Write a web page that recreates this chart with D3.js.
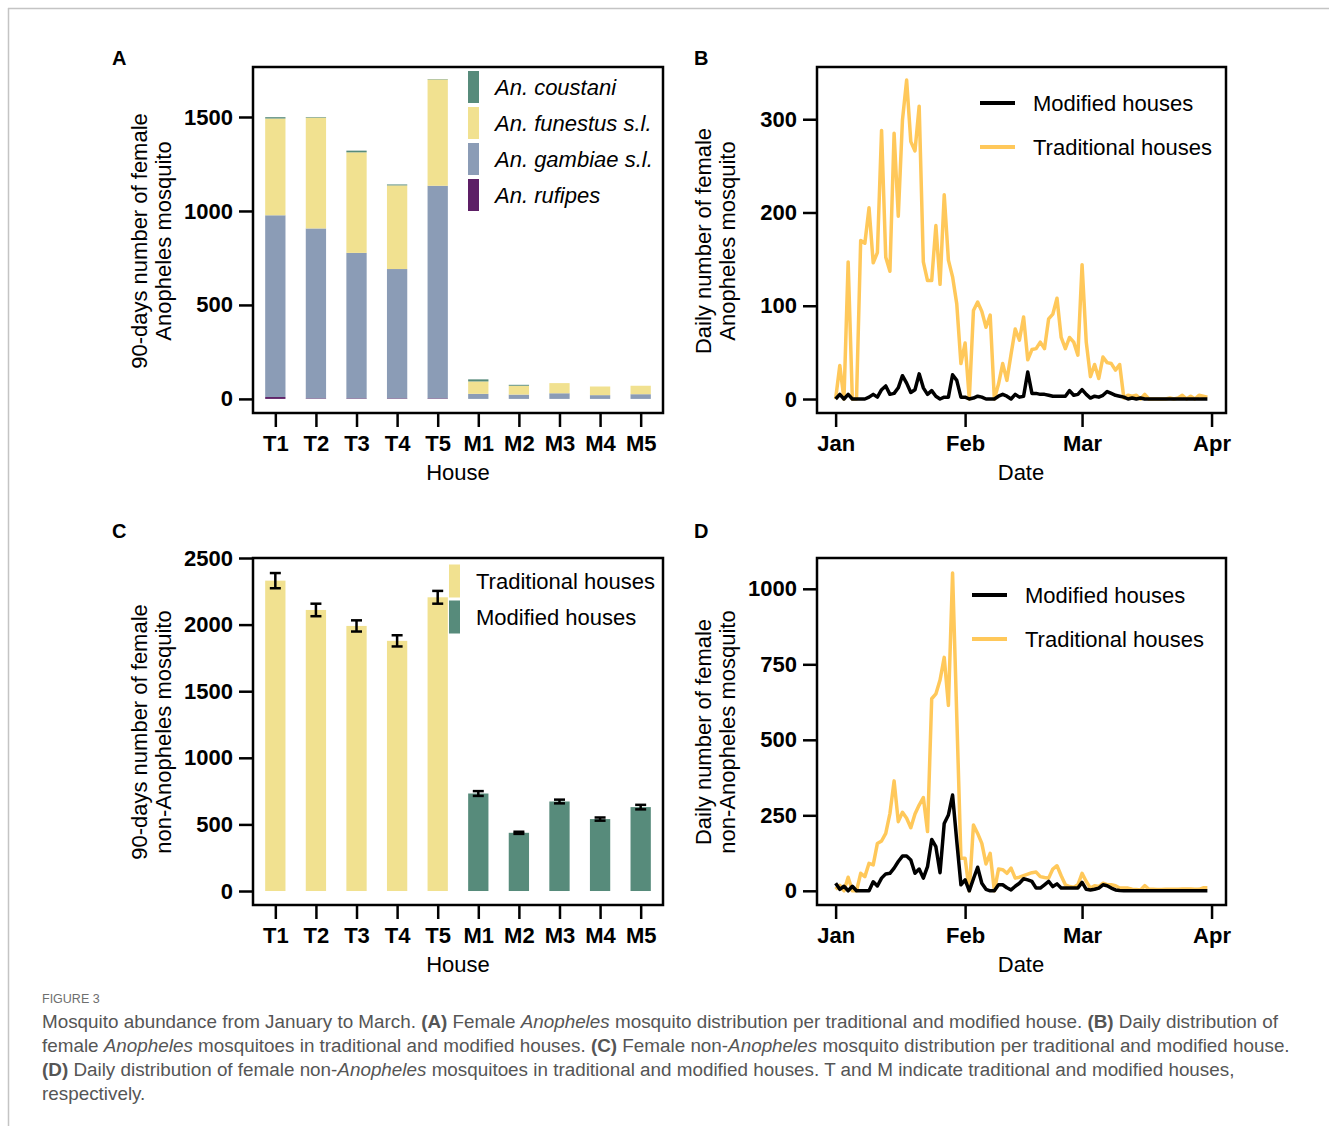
<!DOCTYPE html>
<html>
<head>
<meta charset="UTF-8">
<title>Figure 3 - Mosquito abundance</title>
<style>
  body { margin: 0; background: #fff; }
  svg text { font-family: "Liberation Sans", Arial, sans-serif; fill: #000; }
</style>
</head>
<body>
<script src="https://cdn.jsdelivr.net/npm/d3@7"></script>
<script>
// ---- data ----
var houses = ["T1", "T2", "T3", "T4", "T5", "M1", "M2", "M3", "M4", "M5"];

// panel A: 90-day Anopheles counts per house, by species (stack order bottom -> top)
var rufipes  = [10, 3, 3, 3, 3, 0, 0, 0, 0, 0];
var gambiae  = [967, 904, 774, 688, 1131, 27, 23, 30, 20, 25];
var funestus = [515, 590, 535, 445, 566, 66, 47, 54, 46, 45];
var coustani = [7, 3, 9, 5, 2, 11, 5, 0, 0, 0];

// panel C: 90-day non-Anopheles counts per house with error
var nonAnoph    = [2330, 2110, 1990, 1878, 2205, 732, 437, 672, 540, 630];
var nonAnophErr = [57, 47, 42, 42, 48, 18, 8, 14, 12, 17];

// panels B and D: daily counts, Jan 1 -> Mar 31
var anophTrad = [0, 36, 0, 147, 0, 0, 170, 167, 205, 146, 157, 288, 152, 137, 285, 196, 299, 342, 276, 266,
  314, 147, 127, 127, 186, 123, 219, 149, 131, 102, 38, 60, 0, 95, 104, 94, 77, 90, 0, 16,
  38, 20, 48, 75, 63, 88, 42, 53, 54, 61, 54, 86, 91, 108, 66, 54, 66, 61, 47, 144,
  61, 24, 37, 22, 45, 39, 38, 31, 37, 1, 4, 3, 4, 0, 5, 0, 0, 0, 0, 0,
  1, 0, 1, 4, 0, 3, 0, 4, 3, 2];
var anophMod = [0, 5, 0, 5, 0, 0, 0, 0, 2, 5, 2, 10, 14, 5, 6, 12, 25, 17, 7, 10,
  27, 12, 5, 9, 3, 0, 2, 2, 26, 20, 2, 2, 0, 1, 3, 2, 0, 0, 0, 3,
  5, 3, 0, 5, 2, 3, 29, 6, 6, 5, 5, 4, 3, 3, 3, 3, 9, 4, 5, 10,
  5, 1, 3, 2, 4, 8, 6, 4, 3, 2, 0, 1, 0, 1, 0, 0, 0, 0, 0, 0,
  0, 0, 0, 0, 0, 0, 0, 0, 0, 0];
var nonAnophTrad = [5, 18, 0, 45, 0, 0, 58, 47, 91, 86, 157, 165, 190, 256, 364, 229, 260, 240, 209, 254,
  284, 309, 196, 636, 652, 698, 773, 614, 1052, 580, 108, 108, 0, 218, 190, 157, 89, 124, 0, 72,
  70, 58, 75, 42, 45, 50, 55, 60, 62, 47, 44, 42, 72, 83, 50, 20, 14, 12, 20, 58,
  31, 9, 17, 14, 25, 20, 20, 17, 9, 9, 9, 5, 4, 3, 17, 5, 5, 4, 4, 5,
  5, 5, 5, 6, 6, 6, 5, 5, 10, 10];
var nonAnophMod = [25, 5, 15, 0, 15, 0, 0, 0, 0, 30, 16, 42, 56, 58, 75, 97, 115, 115, 102, 58,
  72, 42, 80, 170, 146, 60, 223, 251, 317, 165, 20, 36, 0, 40, 78, 25, 5, 0, 0, 20,
  20, 10, 3, 15, 25, 40, 36, 31, 9, 9, 20, 31, 14, 23, 9, 9, 9, 9, 9, 28,
  5, 3, 5, 9, 20, 17, 9, 3, 1, 0, 0, 0, 0, 0, 0, 0, 0, 0, 0, 0,
  0, 0, 0, 0, 0, 0, 0, 0, 0, 0];

var speciesKeys   = ["rufipes", "gambiae", "funestus", "coustani"];
var speciesLabels = {coustani: "An. coustani", funestus: "An. funestus s.l.", gambiae: "An. gambiae s.l.", rufipes: "An. rufipes"};
var speciesColors = {coustani: "#578b7b", funestus: "#f1e190", gambiae: "#8b9cb6", rufipes: "#5d1f66"};
var tradColor = "#f1e190", modColor = "#578b7b";
var lineTrad = "#ffc85a", lineMod = "#000";

var W = 1329, H = 1126;
var svg = d3.select("body").append("svg").attr("width", W).attr("height", H);

// light border of the figure box
svg.append("line").attr("x1", 8).attr("x2", W).attr("y1", 8.5).attr("y2", 8.5).attr("stroke", "#c4c4c4").attr("stroke-width", 1.5);
svg.append("line").attr("x1", 8.5).attr("x2", 8.5).attr("y1", 8).attr("y2", H).attr("stroke", "#c4c4c4").attr("stroke-width", 1.5);

var days = d3.range(anophTrad.length).map(function(i){ return new Date(2023, 0, 1 + i); });

// ---- helpers ----
function styleAxis(g) {
  g.select(".domain").remove();
  g.selectAll(".tick line").attr("stroke", "#000").attr("stroke-width", 2.5);
  g.selectAll(".tick text").attr("font-size", 22).attr("font-weight", "bold").attr("fill", "#000");
}

function frame(p) {
  svg.append("rect").attr("x", p.x0).attr("y", p.y0)
    .attr("width", p.x1 - p.x0).attr("height", p.y1 - p.y0)
    .attr("fill", "none").attr("stroke", "#000").attr("stroke-width", 2.5);
}

function panelLetter(txt, x, y) {
  svg.append("text").attr("x", x).attr("y", y).attr("font-size", 20).attr("font-weight", "bold").text(txt);
}

function yTitle(lines, bx, cy) {
  lines.forEach(function(t, i){
    svg.append("text").attr("transform", "translate(" + (bx + i * 24) + "," + cy + ") rotate(-90)")
      .attr("text-anchor", "middle").attr("font-size", 22).text(t);
  });
}

function xTitle(t, cx, y) {
  svg.append("text").attr("x", cx).attr("y", y).attr("text-anchor", "middle").attr("font-size", 22).text(t);
}

function barPanel(p, yDomain, yTicks) {
  var x = d3.scalePoint().domain(houses).range([p.x0, p.x1]).padding(0.55);
  var y = d3.scaleLinear().domain(yDomain).range([p.y1, p.y0]);
  svg.append("g").attr("transform", "translate(" + p.x0 + ",0)")
    .call(d3.axisLeft(y).tickValues(yTicks).tickFormat(d3.format("d")).tickSize(14).tickPadding(6))
    .call(styleAxis);
  svg.append("g").attr("transform", "translate(0," + p.y1 + ")")
    .call(d3.axisBottom(x).tickSize(14).tickPadding(8)).call(styleAxis);
  return {x: x, y: y, bw: x.step() * 0.5};
}

function linePanel(p, yDomain, yTicks, trad, mod) {
  var x = d3.scaleTime()
    .domain([d3.timeHour.offset(days[0], -107), d3.timeHour.offset(days[days.length - 1], 107)])
    .range([p.x0, p.x1]);
  var y = d3.scaleLinear().domain(yDomain).range([p.y1, p.y0]);
  svg.append("g").attr("transform", "translate(" + p.x0 + ",0)")
    .call(d3.axisLeft(y).tickValues(yTicks).tickFormat(d3.format("d")).tickSize(14).tickPadding(6))
    .call(styleAxis);
  svg.append("g").attr("transform", "translate(0," + p.y1 + ")")
    .call(d3.axisBottom(x).tickValues([0, 1, 2, 3].map(function(m){ return new Date(2023, m, 1); }))
      .tickFormat(d3.timeFormat("%b")).tickSize(14).tickPadding(8))
    .call(styleAxis);
  var line = d3.line().x(function(d, i){ return x(days[i]); }).y(function(d){ return y(d); });
  svg.append("path").datum(trad).attr("d", line).attr("fill", "none")
    .attr("stroke", lineTrad).attr("stroke-width", 3.5).attr("stroke-linejoin", "round");
  svg.append("path").datum(mod).attr("d", line).attr("fill", "none")
    .attr("stroke", lineMod).attr("stroke-width", 3.5).attr("stroke-linejoin", "round");
}

function lineLegend(lx, ly) {
  [["Modified houses", lineMod], ["Traditional houses", lineTrad]].forEach(function(e, i){
    var cy = ly + i * 44;
    svg.append("line").attr("x1", lx).attr("x2", lx + 35).attr("y1", cy).attr("y2", cy)
      .attr("stroke", e[1]).attr("stroke-width", 4);
    svg.append("text").attr("x", lx + 53).attr("y", cy + 8).attr("font-size", 22).text(e[0]);
  });
}

// ---- panel A ----
var pA = {x0: 253, x1: 663, y0: 67, y1: 413};
var a = barPanel(pA, [-75, 1766], [0, 500, 1000, 1500]);
var tableA = houses.map(function(h, i){
  return {house: h, rufipes: rufipes[i], gambiae: gambiae[i], funestus: funestus[i], coustani: coustani[i]};
});
var stackA = d3.stack().keys(speciesKeys)(tableA);
svg.append("g").selectAll("g").data(stackA).join("g")
  .attr("fill", function(s){ return speciesColors[s.key]; })
  .selectAll("rect").data(function(s){ return s; }).join("rect")
  .attr("x", function(d){ return a.x(d.data.house) - a.bw / 2; })
  .attr("width", a.bw)
  .attr("y", function(d){ return a.y(d[1]); })
  .attr("height", function(d){ return a.y(d[0]) - a.y(d[1]); });
frame(pA);
["coustani", "funestus", "gambiae", "rufipes"].forEach(function(k, i){
  var cy = 87 + i * 36;
  svg.append("rect").attr("x", 468).attr("y", cy - 16).attr("width", 11).attr("height", 32)
    .attr("fill", speciesColors[k]);
  svg.append("text").attr("x", 495).attr("y", cy + 8).attr("font-size", 22)
    .attr("font-style", "italic").text(speciesLabels[k]);
});
panelLetter("A", 112, 65);
yTitle(["90-days number of female", "Anopheles mosquito"], 147, 241);
xTitle("House", 458, 480);

// ---- panel B ----
var pB = {x0: 817, x1: 1226, y0: 67, y1: 413};
linePanel(pB, [-15, 356], [0, 100, 200, 300], anophTrad, anophMod);
frame(pB);
lineLegend(980, 103);
panelLetter("B", 694, 65);
yTitle(["Daily number of female", "Anopheles mosquito"], 711, 241);
xTitle("Date", 1021, 480);

// ---- panel C ----
var pC = {x0: 253, x1: 663, y0: 558, y1: 905};
var c = barPanel(pC, [-105, 2500], [0, 500, 1000, 1500, 2000, 2500]);
svg.append("g").selectAll("rect").data(houses).join("rect")
  .attr("x", function(h){ return c.x(h) - c.bw / 2; })
  .attr("width", c.bw)
  .attr("y", function(h, i){ return c.y(nonAnoph[i]); })
  .attr("height", function(h, i){ return c.y(0) - c.y(nonAnoph[i]); })
  .attr("fill", function(h){ return h.charAt(0) === "T" ? tradColor : modColor; });
var eb = svg.append("g").attr("stroke", "#000").attr("stroke-width", 2.5);
houses.forEach(function(h, i){
  var cx = c.x(h), top = c.y(nonAnoph[i] + nonAnophErr[i]), bot = c.y(nonAnoph[i] - nonAnophErr[i]);
  eb.append("line").attr("x1", cx).attr("x2", cx).attr("y1", top).attr("y2", bot);
  eb.append("line").attr("x1", cx - 5.5).attr("x2", cx + 5.5).attr("y1", top).attr("y2", top);
  eb.append("line").attr("x1", cx - 5.5).attr("x2", cx + 5.5).attr("y1", bot).attr("y2", bot);
});
frame(pC);
[["Traditional houses", tradColor], ["Modified houses", modColor]].forEach(function(e, i){
  var cy = 581 + i * 36;
  svg.append("rect").attr("x", 449).attr("y", cy - 16.5).attr("width", 11).attr("height", 33).attr("fill", e[1]);
  svg.append("text").attr("x", 476).attr("y", cy + 8).attr("font-size", 22).text(e[0]);
});
panelLetter("C", 112, 538);
yTitle(["90-days number of female", "non-Anopheles mosquito"], 147, 732);
xTitle("House", 458, 972);

// ---- panel D ----
var pD = {x0: 817, x1: 1226, y0: 558, y1: 905};
linePanel(pD, [-47, 1102], [0, 250, 500, 750, 1000], nonAnophTrad, nonAnophMod);
frame(pD);
lineLegend(972, 595);
panelLetter("D", 694, 538);
yTitle(["Daily number of female", "non-Anopheles mosquito"], 711, 732);
xTitle("Date", 1021, 972);

// ---- caption ----
svg.append("text").attr("x", 42).attr("y", 1003).attr("font-size", 12.5)
  .style("fill", "#6e6e6e").text("FIGURE 3");
var capLines = [
  [["Mosquito abundance from January to March. ", ""], ["(A)", "b"], [" Female ", ""], ["Anopheles", "i"],
   [" mosquito distribution per traditional and modified house. ", ""], ["(B)", "b"], [" Daily distribution of", ""]],
  [["female ", ""], ["Anopheles", "i"], [" mosquitoes in traditional and modified houses. ", ""], ["(C)", "b"],
   [" Female non-", ""], ["Anopheles", "i"], [" mosquito distribution per traditional and modified house.", ""]],
  [["(D)", "b"], [" Daily distribution of female non-", ""], ["Anopheles", "i"],
   [" mosquitoes in traditional and modified houses. T and M indicate traditional and modified houses,", ""]],
  [["respectively.", ""]]
];
var capNodes = capLines.map(function(parts, li){
  var t = svg.append("text").attr("x", 42).attr("y", 1028 + li * 24).attr("font-size", 17)
    .style("fill", "#555").attr("xml:space", "preserve");
  parts.forEach(function(p){
    t.append("tspan").text(p[0])
      .attr("font-weight", p[1] === "b" ? "bold" : null)
      .attr("font-style", p[1] === "i" ? "italic" : null);
  });
  return t;
});
// fit the first caption line to the width seen in the figure
var w0 = capNodes[0].node().getComputedTextLength();
var fs = 17 * 1237 / w0;
capNodes.forEach(function(t){ t.attr("font-size", fs); });
</script>
</body>
</html>
